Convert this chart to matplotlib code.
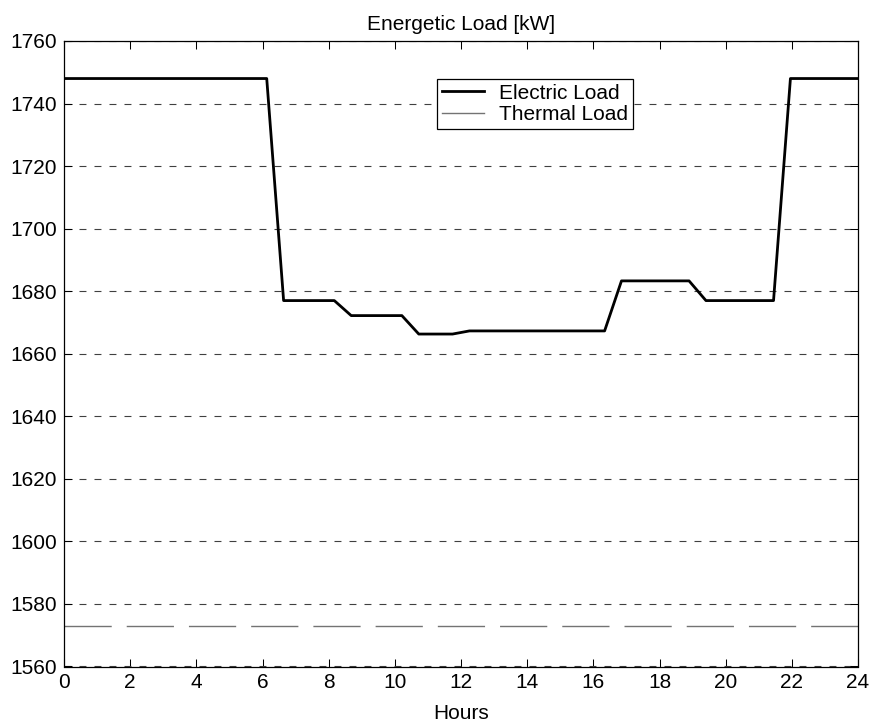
import numpy as np
import matplotlib
matplotlib.use("Agg")
import matplotlib.pyplot as plt

# half-hourly samples over one day (48 points)
hours = np.linspace(0, 24, 48)
electric = [1748] * 13 + [1677] * 4 + [1672.2] * 4 + [1666.3] * 3 + \
           [1667.3] * 9 + [1683.3] * 5 + [1677] * 5 + [1748] * 5
thermal = [1573] * 48

plt.rcParams['font.family'] = ['Liberation Sans', 'DejaVu Sans']
plt.rcParams['font.size'] = 15
plt.rcParams['lines.scale_dashes'] = False

fig = plt.figure(figsize=(8.72, 7.23), dpi=100)
ax = fig.add_axes([64/872, 1 - 666.5/723, (858 - 64)/872, (666.5 - 41)/723])

ax.plot(hours, electric, color='black', lw=2.0, label='Electric Load')
ax.plot(hours, thermal, color='0.45', lw=1.0, linestyle=(0, (34, 10.8)),
        label='Thermal Load')

ax.set_xlim(0, 24)
ax.set_ylim(1560, 1760)
ax.set_xticks(np.arange(0, 25, 2))
ax.set_yticks(np.arange(1560, 1761, 20))
ax.yaxis.grid(True, color='0.25', lw=0.8, linestyle=(0, (5, 5.8)))
ax.tick_params(direction='in', length=5.5, width=0.75, top=True, right=True,
               labelsize=15, pad=5)
for sp in ax.spines.values():
    sp.set_linewidth(0.9)

ax.set_title('Energetic Load [kW]', fontsize=15, pad=8)
ax.set_xlabel('Hours', fontsize=15, labelpad=8)

leg = ax.legend(loc='upper left', bbox_to_anchor=(0.47, 0.94), fancybox=False,
                framealpha=1, edgecolor='black', handlelength=2.0,
                borderpad=0.25, labelspacing=0.1, handletextpad=0.7,
                borderaxespad=0)
leg.get_frame().set_linewidth(0.9)
leg.get_lines()[1].set_linestyle('-')

fig.savefig('out.png', dpi=100)
